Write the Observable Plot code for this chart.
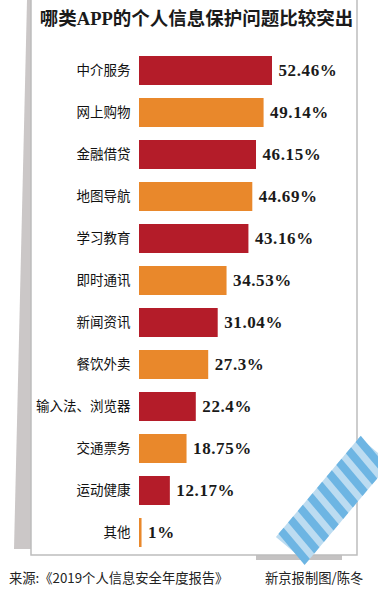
<!DOCTYPE html>
<html>
<head>
<meta charset="utf-8">
<script src="https://cdn.jsdelivr.net/npm/d3@7"></script>
<script src="https://cdn.jsdelivr.net/npm/@observablehq/plot@0.6"></script>
<style>
  html, body { margin: 0; padding: 0; background: #ffffff; }
  #wrap { position: relative; width: 378px; height: 600px; overflow: hidden; }
  #bg { position: absolute; left: 0; top: 0; }
  #title { position: relative; height: 40px; line-height: 38px; text-align: center;
    font-family: "Liberation Serif", "Noto Sans CJK SC", serif; font-weight: 700;
    font-size: 18.5px; color: #1a1a1a; padding-left: 15px; letter-spacing: 0px; }
  #chart { position: relative; }
  #chart g[aria-label="text"] text { letter-spacing: 0.6px; }
  #foot { position: relative; height: 26px; line-height: 26px; font-family: "Noto Sans CJK SC", sans-serif;
    font-size: 13.3px; color: #222; }
  #foot .l { position: absolute; left: 9px; }
  #foot .r { position: absolute; left: 265px; }
</style>
</head>
<body>
<div id="wrap">
  <svg id="bg" width="378" height="600"></svg>
  <div id="title">哪类APP的个人信息保护问题比较突出</div>
  <div id="chart"></div>
  <div id="foot"><span class="l">来源:《2019个人信息安全年度报告》</span><span class="r">新京报制图/陈冬</span></div>
</div>
<script>
const categories = ["中介服务","网上购物","金融借贷","地图导航","学习教育","即时通讯","新闻资讯","餐饮外卖","输入法、浏览器","交通票务","运动健康","其他"];
const values = [52.46, 49.14, 46.15, 44.69, 43.16, 34.53, 31.04, 27.3, 22.4, 18.75, 12.17, 1];

const data = categories.map((c, i) => ({category: c, value: values[i], group: i % 2}));

// background card, shadow and tape (decoration)
const bg = d3.select("#bg");
bg.append("polygon").attr("points", "27,0 31,0 31,549 14,549").attr("fill", "#cbc7c7");
bg.append("rect").attr("x", 256).attr("y", 555).attr("width", 86).attr("height", 5).attr("fill", "#c4c2c2");
bg.append("rect").attr("x", 31).attr("y", -2).attr("width", 326).attr("height", 557)
  .attr("fill", "#ffffff").attr("stroke", "#bdbdbd").attr("stroke-width", 1.5);
const tape = bg.append("g").attr("transform", "translate(333,500) rotate(-50)");
const tl = 130, tw = 40;
tape.append("rect").attr("x", -tl/2).attr("y", -tw/2).attr("width", tl).attr("height", tw).attr("fill", "#bcdcf1");
for (let k = 0; k < 9; k++) {
  tape.append("polygon")
    .attr("points", `${-tl/2 + 4 + k*15},${-tw/2} ${-tl/2 + 12 + k*15},${-tw/2} ${-tl/2 + 5 + k*15},${tw/2} ${-tl/2 - 3 + k*15},${tw/2}`)
    .attr("fill", "#6db5e3");
}

const chart = Plot.plot({
  width: 378,
  height: 525,
  marginLeft: 139,
  marginRight: 106,
  marginTop: 5.3,
  marginBottom: 6.7,
  style: {background: "transparent", overflow: "visible"},
  x: {domain: [0, 52.46], axis: null},
  y: {domain: categories, paddingInner: 0.3, paddingOuter: 0.15, label: null},
  color: {domain: [0, 1], range: ["#b41c29", "#e9882b"]},
  marks: [
    Plot.barX(data, {x: "value", y: "category", fill: "group"}),
    Plot.text(data, {x: "value", y: "category", text: d => d.value + "%", textAnchor: "start", dx: 6,
      fontFamily: "Liberation Serif, serif", fontWeight: "bold", fontSize: 17, fill: "#1a1a1a"}),
    Plot.axisY({tickSize: 0, tickPadding: 9, label: null,
      fontFamily: "Noto Sans CJK SC, sans-serif", fontSize: 13.5, fontWeight: 400, fill: "#111"})
  ]
});
document.getElementById("chart").appendChild(chart);
</script>
</body>
</html>
